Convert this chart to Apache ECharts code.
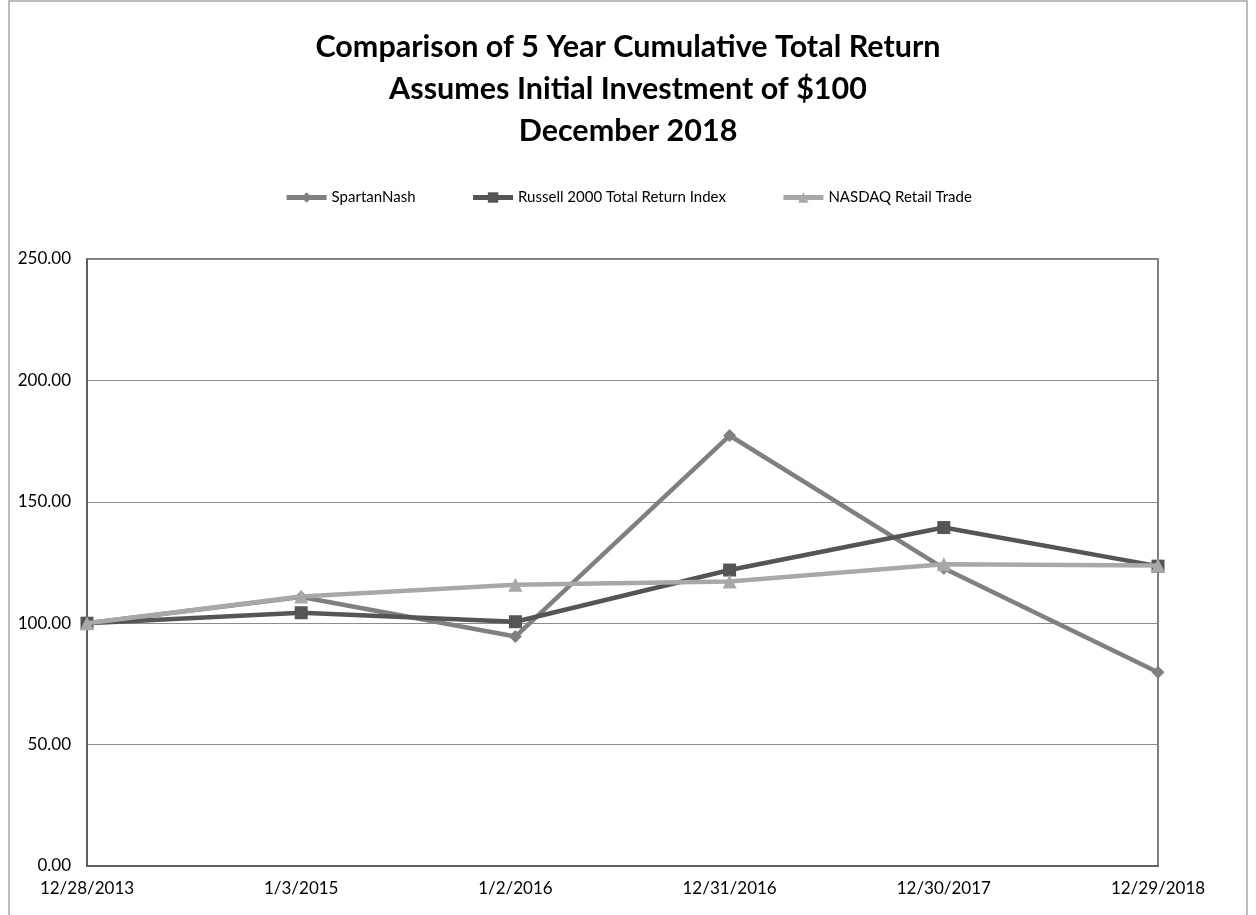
<!DOCTYPE html>
<html>
<head>
<meta charset="utf-8">
<script src="https://cdn.jsdelivr.net/npm/echarts@6/dist/echarts.min.js"></script>
<style>
html,body{margin:0;padding:0;background:#fff;}
#frame{position:absolute;left:8px;top:0;width:1240px;height:915px;border-left:2px solid #bdbdbd;border-top:2px solid #bdbdbd;border-right:2px solid #bdbdbd;box-sizing:border-box;}
#chart{position:absolute;left:0;top:0;width:1256px;height:915px;}
</style>
</head>
<body>
<div id="frame"></div>
<div id="chart"></div>
<script>
const categories = ['12/28/2013','1/3/2015','1/2/2016','12/31/2016','12/30/2017','12/29/2018'];
const spartanNash = [100.00, 110.8, 94.5, 177.3, 122.6, 79.8];
const russell2000 = [100.00, 104.3, 100.6, 121.9, 139.4, 123.5];
const nasdaqRetail = [100.00, 111.0, 115.8, 117.2, 124.3, 123.8];
const yTicks = [0, 50, 100, 150, 200, 250];

const chart = echarts.init(document.getElementById('chart'));
const font = 'Lato, "Open Sans", sans-serif';
chart.setOption({
  animation: false,
  backgroundColor: 'transparent',
  title: {
    text: 'Comparison of 5 Year Cumulative Total Return\nAssumes Initial Investment of $100\nDecember 2018',
    left: 'center', top: 21,
    textStyle: { fontFamily: font, fontWeight: 'bold', fontSize: 30.5, color: '#000', lineHeight: 42 }
  },
  legend: {
    top: 185, left: 'center', itemGap: 55, itemWidth: 40, itemHeight: 13,
    lineStyle: { width: 5 },
    textStyle: { fontFamily: font, fontSize: 15, color: '#000' },
    data: ['SpartanNash', 'Russell 2000 Total Return Index', 'NASDAQ Retail Trade']
  },
  grid: { left: 87, right: 98, top: 259, bottom: 49, show: true, borderColor: '#555', borderWidth: 1.5 },
  xAxis: {
    type: 'category', data: categories, boundaryGap: false,
    axisLine: { lineStyle: { color: '#555', width: 1.5 } },
    axisTick: { show: false },
    axisLabel: { fontFamily: font, fontSize: 17, color: '#000', margin: 14 }
  },
  yAxis: {
    type: 'value', min: yTicks[0], max: yTicks[yTicks.length - 1], interval: 50,
    axisLine: { show: true, lineStyle: { color: '#555', width: 1.5 } },
    axisTick: { show: false },
    splitLine: { lineStyle: { color: '#8c8c8c', width: 1 } },
    axisLabel: { fontFamily: font, fontSize: 17, color: '#000', margin: 16, formatter: v => v.toFixed(2) }
  },
  series: [
    { name: 'SpartanNash', type: 'line', data: spartanNash, symbol: 'diamond', symbolSize: 13,
      lineStyle: { width: 4.5, color: '#808080' }, itemStyle: { color: '#808080' }, z: 3 },
    { name: 'Russell 2000 Total Return Index', type: 'line', data: russell2000, symbol: 'rect', symbolSize: 13,
      lineStyle: { width: 4.5, color: '#555555' }, itemStyle: { color: '#555555' }, z: 4 },
    { name: 'NASDAQ Retail Trade', type: 'line', data: nasdaqRetail, symbol: 'triangle', symbolSize: 14,
      lineStyle: { width: 4.5, color: '#a8a8a8' }, itemStyle: { color: '#a8a8a8' }, z: 5 }
  ]
});
</script>
</body>
</html>
